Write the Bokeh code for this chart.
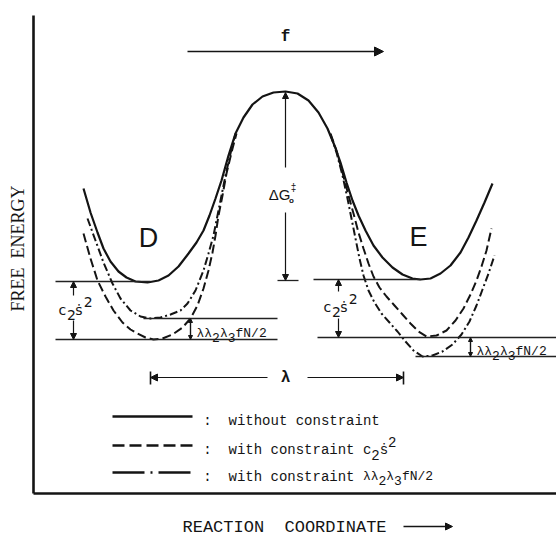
import math
from bokeh.plotting import figure
from bokeh.models import Range1d, Arrow, NormalHead
from bokeh.core.properties import value
from bokeh.embed import file_html
from bokeh.resources import INLINE

INK = "#141414"
NB = "\u00a0"

# ---------------- data (x: reaction coordinate, y: free energy in figure units, y grows downward) ----
# potential without constraint
solid_x = [83, 90, 97, 103, 110, 118, 126, 135, 147, 158, 168, 178, 188, 196, 203, 209, 215, 221, 228, 235,
           243, 252, 262, 273, 285, 297, 308, 318, 327, 334, 340, 346, 352, 358, 365, 373, 382, 392, 402, 412,
           420, 430, 440, 450, 460, 468, 476, 484, 492]
solid_y = [188, 212, 232, 248, 261, 271, 277, 281, 282, 280, 275, 266, 253, 242, 230, 215, 198, 180, 155, 133,
           117, 104, 96, 92, 91, 93, 100, 112, 128, 145, 162, 182, 200, 215, 230, 245, 257, 267, 274, 278,
           279, 278, 273, 265, 252, 237, 220, 202, 183]
# well D with constraint lambda*lambda2*lambda3*fN/2 (dash-dot)
d_dd_x = [87, 95, 103, 112, 120, 130, 140, 150, 160, 170, 180, 187, 195, 203, 208, 213, 217, 221, 225, 230, 235]
d_dd_y = [218, 240, 262, 283, 298, 310, 316, 318, 317, 314, 310, 303, 290, 270, 253, 235, 215, 195, 175, 153, 133]
# well D with constraint c2 s'^2 (dashed)
d_da_x = [83, 90, 97, 105, 113, 122, 130, 137, 145, 153, 162, 172, 182, 190, 197, 203, 208, 212, 215, 218, 222, 226, 231, 236]
d_da_y = [233, 258, 280, 296, 310, 322, 329, 333, 337, 339, 338, 334, 327, 318, 305, 288, 270, 252, 235, 215, 195, 173, 152, 133]
# well E with constraint c2 s'^2 (dashed)
e_da_x = [330, 336, 342, 348, 353, 358, 363, 368, 373, 379, 386, 394, 402, 410, 418, 426, 436, 446, 455, 463, 470, 476, 481, 486, 491]
e_da_y = [133, 150, 172, 195, 213, 232, 248, 263, 276, 287, 296, 305, 314, 323, 331, 336, 335, 330, 320, 308, 294, 280, 266, 250, 228]
# well E with constraint lambda*lambda2*lambda3*fN/2 (dash-dot)
e_dd_x = [330, 336, 342, 347, 351, 355, 359, 363, 368, 374, 381, 389, 397, 405, 413, 422, 432, 442, 452, 461, 469, 476, 482, 488, 494]
e_dd_y = [134, 152, 175, 198, 218, 238, 258, 275, 290, 302, 313, 322, 331, 341, 350, 356, 355, 351, 344, 334, 321, 305, 289, 273, 255]

# reference levels: [without constraint, lambda-constraint, c2-constraint]
d_levels = [281, 318, 339]
e_levels = [279, 337, 356]
barrier_top = 92
barrier_base = 280
barrier_x = 285
lam_span = [150, 403]        # lambda: distance between minima
force_span = [187, 383]      # direction of force f
legend_rows = [416, 445, 472]
legend_labels = ["without constraint", "with constraint ", "with constraint "]
y_title = "FREE" + NB * 2 + "ENERGY"
x_title = "REACTION" + NB * 2 + "COORDINATE"

# ---------------- figure ----------------
p = figure(width=556, height=540, x_range=Range1d(0, 556), y_range=Range1d(540, 0),
           output_backend="svg", toolbar_location=None, min_border=0,
           x_axis_type=None, y_axis_type=None)
p.grid.visible = False
p.outline_line_color = None
p.background_fill_color = "white"
p.border_fill_color = "white"

# frame axes
p.line([33, 33], [15, 493], line_color=INK, line_width=2.6)
p.line([33, 556], [493, 493], line_color=INK, line_width=2.6)

# curves
p.line(solid_x, solid_y, line_color=INK, line_width=2.2)
p.line(d_dd_x, d_dd_y, line_color=INK, line_width=2.0, line_dash="8 3 2 3")
p.line(d_da_x, d_da_y, line_color=INK, line_width=2.0, line_dash="9 4")
p.line(e_da_x, e_da_y, line_color=INK, line_width=2.0, line_dash="9 4")
p.line(e_dd_x, e_dd_y, line_color=INK, line_width=2.0, line_dash="8 3 2 3")

# level lines
lv_x0 = [55, 143, 55, barrier_x - 8, 313, 317, 415]
lv_x1 = [150, 277, 277, barrier_x + 13, 420, 556, 556]
lv_y = [d_levels[0], d_levels[1], d_levels[2], barrier_base, e_levels[0], e_levels[1], e_levels[2]]
p.segment(x0=lv_x0, y0=lv_y, x1=lv_x1, y1=lv_y, line_color="#222222", line_width=1.3)


def arrow(x0, y0, x1, y1, size=6, width=1.2):
    p.add_layout(Arrow(x_start=x0, y_start=y0, x_end=x1, y_end=y1,
                       end=NormalHead(size=size, fill_color=INK, line_color=INK, line_width=1),
                       line_color=INK, line_width=width))


# c2 s'^2 arrows
arrow(73, 295, 73, d_levels[0])
arrow(73, 320, 73, d_levels[2])
arrow(338, 291, 338, e_levels[0])
arrow(338, 318, 338, e_levels[1])
# lambda lambda2 lambda3 fN/2 arrows
arrow(190, d_levels[1] + 3, 190, d_levels[2], size=4)
arrow(190, d_levels[2] - 3, 190, d_levels[1], size=4)
arrow(470, e_levels[1] + 3, 470, e_levels[2], size=4)
arrow(470, e_levels[2] - 3, 470, e_levels[1], size=4)
# barrier height
arrow(barrier_x, 167, barrier_x, barrier_top, size=6)
arrow(barrier_x, 212, barrier_x, barrier_base, size=6)
# force f
arrow(force_span[0], 51, force_span[1], 51, size=9, width=1.4)
# lambda distance
arrow(267, 377, lam_span[0], 377, size=7, width=1.2)
arrow(307, 377, lam_span[1], 377, size=7, width=1.2)
p.segment(x0=lam_span, y0=[371, 371], x1=lam_span, y1=[384, 384], line_color=INK, line_width=1.6)
# reaction coordinate arrow
arrow(403, 526, 452, 526, size=7, width=1.4)

# ---------------- texts ----------------
MONO = value("Liberation Mono")
SANS = value("Liberation Sans")
SERIF = value("Liberation Serif")


def txt(x, y, s, font, size, align="center", baseline="middle", angle=0.0, style="normal"):
    p.text(x=[x], y=[y], text=[s], text_font=font, text_font_size=f"{size}px",
           text_align=align, text_baseline=baseline, angle=angle, text_color=INK,
           text_font_style=style)


txt(285, 36, "f", MONO, 16, style="bold")
txt(148, 237, "D", SANS, 27)
txt(418, 236, "E", SANS, 27)
txt(285, 377, "λ", MONO, 16, style="bold")
txt(279, 194, "ΔG", SANS, 15)
txt(293, 187, "‡", SANS, 10)
txt(291, 200, "o", SANS, 8, style="bold")

txt(17, 248, y_title, SERIF, 18, angle=math.pi / 2)
txt(182, 527, x_title, MONO, 17, align="left")


def c2s2(x, y, size, font):
    w = size * 0.6
    txt(x, y, "c", font, size, align="left", baseline="alphabetic")
    txt(x + w, y + 5, "2", font, size, align="left", baseline="alphabetic")
    txt(x + 2 * w, y, "ṡ", font, size, align="left", baseline="alphabetic")
    txt(x + 3 * w, y - 8, "2", font, size, align="left", baseline="alphabetic")


def lam_label(x, y, size, font):
    w = size * 0.6
    pieces = [("λλ", 0), ("2", 4), ("λ", 0), ("3", 4), ("fN/2", 0)]
    for s, dy in pieces:
        txt(x, y + dy, s, font, size, align="left", baseline="alphabetic")
        x += w * len(s)


c2s2(58, 309, 14, value("DejaVu Sans"))
c2s2(323, 306, 14, value("DejaVu Sans"))
lam_label(196, 333, 13, MONO)
lam_label(476, 351, 13, MONO)

# legend
leg_x = [112, 192]
p.line(leg_x, [legend_rows[0]] * 2, line_color=INK, line_width=2.6)
p.line(leg_x, [legend_rows[1]] * 2, line_color=INK, line_width=2.6, line_dash="12 5")
p.line(leg_x, [legend_rows[2]] * 2, line_color=INK, line_width=2.6, line_dash="32 6 2 6")
for yy, lab in zip(legend_rows, legend_labels):
    txt(207, yy + 4, ":", MONO, 14, baseline="alphabetic")
    txt(228, yy + 4, lab, MONO, 14, align="left", baseline="alphabetic")
c2s2(228 + 16 * 8.4, legend_rows[1] + 4, 14, MONO)
lam_label(228 + 16 * 8.4, legend_rows[2] + 4, 13, MONO)

open("out.html", "w").write(file_html(p, INLINE))
